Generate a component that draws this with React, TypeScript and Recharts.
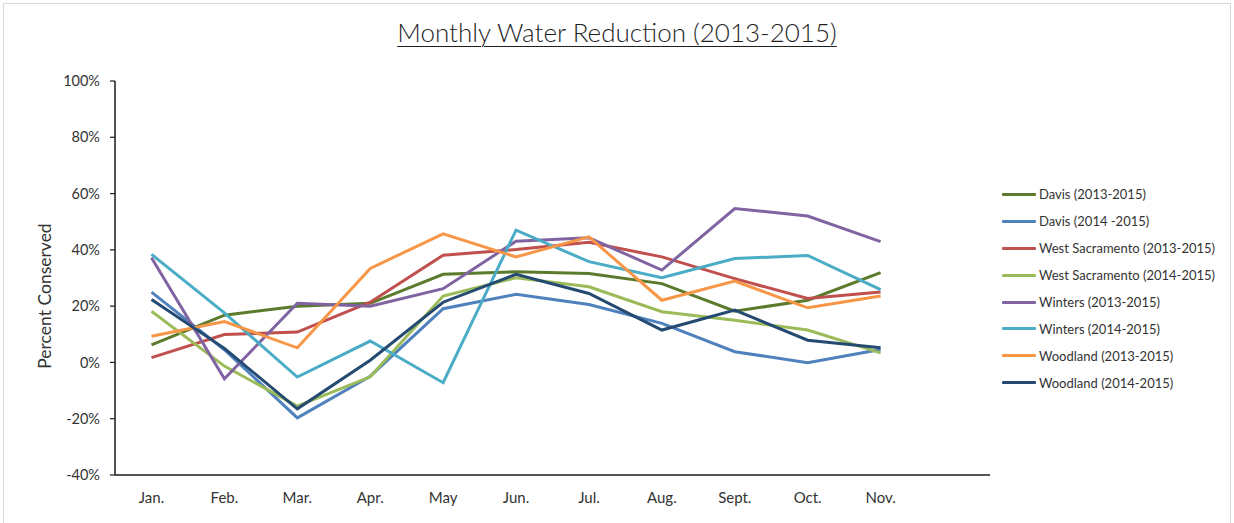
import { Label, Line, LineChart, XAxis, YAxis } from "recharts";

const months = ["Jan.", "Feb.", "Mar.", "Apr.", "May", "Jun.", "Jul.", "Aug.", "Sept.", "Oct.", "Nov.", ""];

const davis1315 = [6.2, 16.8, 20.0, 21.0, 31.3, 32.2, 31.6, 28.0, 18.2, 22.1, 31.9];
const davis1415 = [25.0, 4.5, -19.7, -4.9, 19.1, 24.2, 20.6, 13.9, 3.8, -0.1, 4.6];
const westSac1315 = [1.7, 9.9, 10.8, 21.4, 38.1, 40.1, 42.7, 37.5, 29.8, 22.7, 25.0];
const westSac1415 = [18.2, -1.3, -15.5, -5.1, 23.6, 30.1, 26.9, 18.0, 15.0, 11.5, 3.4];
const winters1315 = [37.2, -5.8, 21.0, 20.0, 26.2, 43.1, 44.3, 32.8, 54.7, 52.0, 42.9];
const winters1415 = [38.4, 17.6, -5.2, 7.6, -7.2, 47.0, 35.8, 30.1, 36.9, 38.0, 25.9];
const woodland1315 = [9.3, 14.5, 5.2, 33.4, 45.7, 37.5, 44.6, 22.1, 28.9, 19.4, 23.6];
const woodland1415 = [22.4, 5.0, -16.5, 0.8, 21.4, 31.3, 24.5, 11.5, 18.6, 7.9, 5.2];

const yTicks = [-40, -20, 0, 20, 40, 60, 80, 100];

const series = [
  { key: "davis1315", name: "Davis (2013-2015)", values: davis1315, color: "#5b7a2c" },
  { key: "davis1415", name: "Davis (2014 -2015)", values: davis1415, color: "#4f81bd" },
  { key: "westSac1315", name: "West Sacramento (2013-2015)", values: westSac1315, color: "#c0504d" },
  { key: "westSac1415", name: "West Sacramento (2014-2015)", values: westSac1415, color: "#9bbb59" },
  { key: "winters1315", name: "Winters (2013-2015)", values: winters1315, color: "#8064a2" },
  { key: "winters1415", name: "Winters (2014-2015)", values: winters1415, color: "#4bacc6" },
  { key: "woodland1315", name: "Woodland (2013-2015)", values: woodland1315, color: "#f79646" },
  { key: "woodland1415", name: "Woodland (2014-2015)", values: woodland1415, color: "#254a72" },
];

const data = months.map((month, i) => {
  const row: Record<string, string | number | null> = { month };
  series.forEach((s) => {
    row[s.key] = i < s.values.length ? s.values[i] : null;
  });
  return row;
});

const FONT = "Lato, 'Open Sans', sans-serif";
const TEXT = "#333333";
const AXIS = "#1a1a1a";

// legend sits to the right of the plot, like excel's
function SideLegend() {
  return (
    <div
      style={{
        position: "absolute",
        left: 1002,
        top: 181,
        fontFamily: FONT,
        fontSize: 13,
        color: TEXT,
      }}
    >
      {series.map((s) => (
        <div key={s.key} style={{ display: "flex", alignItems: "center", height: 26.9 }}>
          <span style={{ width: 34, height: 3, background: s.color, marginRight: 3, borderRadius: 1 }} />
          <span>{s.name}</span>
        </div>
      ))}
    </div>
  );
}

export default function App() {
  return (
    <div style={{ position: "absolute", left: 0, top: 0, width: 1234, height: 523, background: "#fff" }}>
      <div
        style={{
          position: "absolute",
          left: 3,
          top: 3,
          width: 1226,
          height: 524,
          border: "1px solid #d9d9d9",
        }}
      />
      <div
        style={{
          position: "absolute",
          left: 0,
          width: 1234,
          top: 16,
          textAlign: "center",
          fontFamily: FONT,
          fontWeight: 300,
          fontSize: 26,
          color: "#1f1f1f",
          textDecoration: "underline",
          textUnderlineOffset: 4,
          textDecorationThickness: 1,
        }}
      >
        Monthly Water Reduction (2013-2015)
      </div>
      <LineChart
        width={1234}
        height={523}
        data={data}
        margin={{ top: 81, right: 244, bottom: 0, left: 0 }}
        style={{ position: "absolute", left: 0, top: 0 }}
      >
        <XAxis
          dataKey="month"
          tickLine={false}
          tickMargin={11}
          height={48}
          padding={{ left: 36.5, right: 36.5 }}
          axisLine={{ stroke: AXIS, strokeWidth: 1.5 }}
          tick={{ fill: TEXT, fontSize: 15, fontFamily: FONT }}
          interval={0}
        />
        <YAxis
          width={115}
          domain={[-40, 100]}
          ticks={yTicks}
          tickFormatter={(v: number) => `${v}%`}
          tickSize={5}
          tickMargin={10}
          axisLine={{ stroke: AXIS, strokeWidth: 1.5 }}
          tickLine={{ stroke: AXIS, strokeWidth: 1.2 }}
          tick={{ fill: TEXT, fontSize: 14.5, fontFamily: FONT }}
          allowDataOverflow
        >
          <Label
            content={({ viewBox }: { viewBox?: { x: number; y: number; width: number; height: number } }) => {
              if (!viewBox) return null;
              const cx = viewBox.x + 44;
              const cy = viewBox.y + viewBox.height / 2 + 18;
              return (
                <text
                  x={cx}
                  y={cy}
                  transform={`rotate(-90, ${cx}, ${cy})`}
                  textAnchor="middle"
                  dominantBaseline="central"
                  fill={TEXT}
                  fontSize={17.5}
                  fontFamily={FONT}
                >
                  Percent Conserved
                </text>
              );
            }}
          />
        </YAxis>
        {series.map((s) => (
          <Line
            key={s.key}
            type="linear"
            dataKey={s.key}
            name={s.name}
            stroke={s.color}
            strokeWidth={3}
            dot={false}
            activeDot={false}
            isAnimationActive={false}
          />
        ))}
      </LineChart>
      <SideLegend />
    </div>
  );
}
